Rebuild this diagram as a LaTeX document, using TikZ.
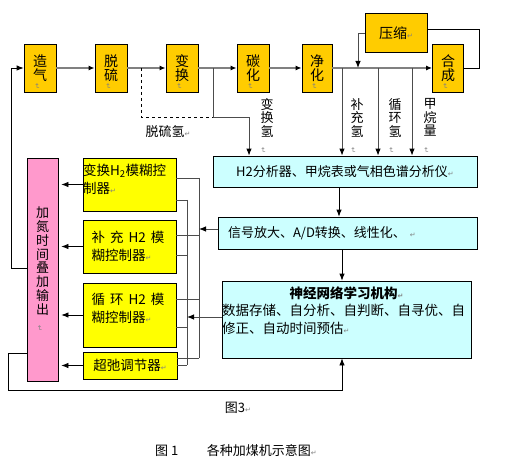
\documentclass[tikz,border=0pt]{standalone}
\usepackage{fontspec}
\usepackage{graphicx}
\setmainfont{Noto Sans CJK SC}
\newfontfamily\dejavu{DejaVu Sans}
\usetikzlibrary{arrows.meta}
\definecolor{procfill}{HTML}{FFCC00}
\definecolor{ctrlfill}{HTML}{FFFF00}
\definecolor{anafill}{HTML}{CCFFFF}
\definecolor{outfill}{HTML}{FF99CC}
\newcommand{\rmk}{{\dejavu\fontsize{7}{7}\selectfont\color{gray}↵}}
\newcommand{\vmk}{\rotatebox{-90}{\rmk}}
\tikzset{
  proc/.style={draw, fill=procfill, line width=0.8pt, minimum width=32pt, minimum height=48pt,
    inner sep=0pt, align=center, font=\fontsize{14}{14}\selectfont,
    label={[inner sep=0pt, anchor=south, xshift=-3pt, yshift=3pt]south:\vmk}},
  ctrl/.style={draw, fill=ctrlfill, line width=0.8pt, minimum width=93pt, inner sep=0pt,
    align=left, font=\fontsize{13.5}{18}\selectfont},
  ana/.style={draw, fill=anafill, line width=0.8pt, inner sep=0pt, font=\fontsize{13}{18}\selectfont},
  outbox/.style={draw, fill=outfill, line width=0.8pt, inner sep=0pt, align=center,
    font=\fontsize{13}{13.75}\selectfont},
  vlab/.style={inner sep=0pt, align=center, font=\fontsize{13}{13.5}\selectfont},
  flow/.style={draw=gray, line width=1.3pt, -{Latex[color=black,length=6pt,width=5pt]}},
  branch/.style={draw=gray!60!black, line width=0.9pt},
  bus/.style={draw=gray!60!black, line width=0.9pt},
  arrowend/.style={-{Latex[color=black,length=7pt,width=5.5pt]}}
}
\begin{document}
\begin{tikzpicture}[x=1pt,y=-1pt]
\useasboundingbox (0,0) rectangle (505,470);

% process line
\node[proc] (zq) at (40,68) {造\\气};
\node[proc] (ts) at (111,68) {脱\\硫};
\node[proc] (bh) at (182,68) {变\\换};
\node[proc] (th) at (253,68) {碳\\化};
\node[proc, minimum width=30pt] (jh) at (317,68) {净\\化};
\node[proc, minimum width=31pt] (hc) at (448,68) {合\\成};
\node[draw, fill=procfill, line width=0.8pt, minimum width=62pt, minimum height=39pt,
  font=\fontsize{14}{14}\selectfont] (ys) at (396,33) {压缩\rmk};

\foreach \a/\b in {zq/ts,ts/bh,bh/th,th/jh,jh/hc}
  \draw[flow] (\a) -- (\b);
\draw[line width=0.8pt] (hc.east) -- ++(15,0) |- ([yshift=4pt]ys.east);
\coordinate (jn) at (358,68);
\draw[branch, arrowend] (ys.west) -| (jn);

% branches to the analyser
\node[ana, minimum width=264pt, minimum height=31pt] (fx) at (345,171.5)
  {H2分析器、甲烷表或气相色谱分析仪\rmk};
\coordinate (d0) at (141,68);
\coordinate (b0) at (213,68);
\coordinate (bk) at (249,117);
\coordinate (b1) at (342,68);
\coordinate (b2) at (378,68);
\coordinate (b3) at (412,68);
\draw[branch, arrowend] (b0) |- (bk) -- (bk |- fx.north);
\draw[line width=0.8pt, dashed] (d0) |- (b0 |- bk);
\foreach \b in {b1,b2,b3}
  \draw[branch, arrowend] (\b) -- (\b |- fx.north);

\node[font=\fontsize{13}{13}\selectfont] (tsq) at (168,132) {脱硫氢\rmk};
\node[vlab] (l0) at (267,126) {变\\换\\氢\\[-2pt]\vmk\hspace*{8pt}};
\node[vlab] (l1) at (357,126) {补\\充\\氢\\[-2pt]\vmk\hspace*{8pt}};
\node[vlab] (l2) at (395,126) {循\\环\\氢\\[-2pt]\vmk\hspace*{8pt}};
\node[vlab] (l3) at (430,126) {甲\\烷\\量\\[-2pt]\vmk\hspace*{8pt}};

% signal chain
\node[ana, minimum width=259pt, minimum height=32pt, text width=239pt, align=left] (xh)
  at (347.5,233) {信号放大、A/D转换、线性化、\hspace{4pt}\rmk};
\node[ana, text width=249pt, minimum height=77pt, align=left,
  font=\fontsize{13.5}{17.5}\selectfont] (nn) at (346.5,319.5)
  {\makebox[249pt]{\bfseries 神经网络学习机构\rmk}\\
   数据存储、自分析、自判断、自寻优、自\\
   修正、自动时间预估\rmk\\[2pt]\mbox{}};
\draw[line width=0.8pt, arrowend] ([xshift=-6pt]fx.south) -- ([xshift=-6pt]fx.south |- xh.north);
\draw[line width=0.8pt, arrowend] ([xshift=-5.5pt]xh.south) -- ([xshift=-5.5pt]xh.south |- nn.north);

% controllers
\node[ctrl, minimum height=53pt, text width=93pt] (k1) at (129.5,184.5)
  {变换H\textsubscript{2}模糊控\\制器\rmk\\[-6pt]\mbox{}};
\node[ctrl, minimum height=53pt, text width=76pt] (k2) at (129.5,246.5)
  {\makebox[73pt][s]{补\hfill 充\hfill H2\hfill 模}\\糊控制器\rmk};
\node[ctrl, minimum height=64pt, text width=76pt] (k3) at (129.5,315)
  {\makebox[73pt][s]{循\hfill 环\hfill H2\hfill 模}\\糊控制器\rmk\\[-4pt]\mbox{}};
\node[ctrl, align=center, minimum width=94pt, minimum height=27pt] (k4) at (130,365.5)
  {超弛调节器\rmk};
\node[outbox, minimum width=31pt, minimum height=223pt] (sc) at (42.5,269.5)
  {加\\氮\\时\\间\\叠\\加\\输\\出\\[-2pt]\vmk\hspace*{6pt}};

\foreach \cn in {k1,k2,k3,k4}
  \draw[line width=0.8pt, arrowend, shorten >=3pt] (\cn.west) -- (\cn.west -| sc.east);

% buses
\coordinate (ob) at (199,178);
\coordinate (ib) at (187,200);
\foreach \cn/\a/\b in {k1/6.5/-15.5, k2/11.5/-8.5, k3/16/-12, k4/7.5/0.5} {
  \coordinate (\cn a) at ([yshift=\a pt]\cn.east);
  \coordinate (\cn b) at ([yshift=\b pt]\cn.east);
  \draw[bus] (\cn a) -- (\cn a -| ob);
  \draw[bus] (\cn b) -- (\cn b -| ib);
}
\draw[bus] (ob) -- (ob |- k4a);
\draw[bus] (ib) -- (ib |- k4b);
\draw[bus, arrowend] ([yshift=4pt]xh.west) -- ([yshift=4pt]xh.west -| ob);
\draw[bus, arrowend] ([yshift=2.5pt]nn.west) -- ([yshift=2.5pt]nn.west -| ib);

% feedbacks
\draw[line width=0.8pt, arrowend] ([yshift=1.5pt]sc.west) -- ++(-15,0) |- (zq.west);
\draw[line width=0.8pt, arrowend] ([yshift=28pt]sc.south west) -- ++(-18,0) -- ++(0,37)
  -| ([xshift=-4.5pt]nn.south);

% captions
\node[font=\fontsize{13}{13}\selectfont] (t3) at (238,408) {图3\rmk};
\node[font=\fontsize{13}{13}\selectfont] (t1) at (236,451) {图 1\hspace{2.2em}各种加煤机示意图\rmk};
\end{tikzpicture}
\end{document}
